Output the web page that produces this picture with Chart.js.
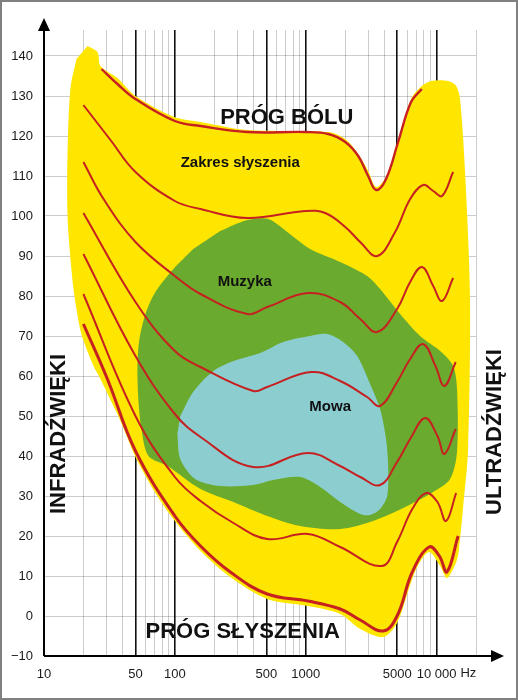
<!DOCTYPE html>
<html><head><meta charset="utf-8">
<script src="https://cdn.jsdelivr.net/npm/chart.js@4.4.1/dist/chart.umd.min.js"></script>
<style>html,body{margin:0;padding:0;background:#fff;}#wrap{width:518px;height:700px;}</style>
</head><body><div id="wrap"><canvas id="c" width="518" height="700"></canvas></div>
<script>
// ---- axis definitions ----
const xGridValues = [10,20,30,40,50,60,70,80,90,100,200,300,400,500,600,700,800,900,1000,2000,3000,4000,5000,6000,7000,8000,9000,10000,20000];
const xMajorValues = [50,100,500,1000,5000,10000];
const xLabelValues = [10,50,100,500,1000,5000,10000];
const xLabelTexts = ['10','50','100','500','1000','5000','10 000'];
const yTickValues = [-10,0,10,20,30,40,50,60,70,80,90,100,110,120,130,140];
const yTickLabels = ['\u221210','0','10','20','30','40','50','60','70','80','90','100','110','120','130','140'];

// ---- regions [Hz, dB] ----
const hearingArea = [[21.5,142.5],[25.6,141],[27.0,137.5],[36.4,134.5],[50,130],[99,124.75],[157,123.5],[357,121.5],[1486,121],[2004,119.25],[2518,115.5],[2999,111.25],[3450,107.25],[4110,109.75],[5080,118.75],[6380,129.25],[7700,132.5],[9080,133.75],[12250,133.75],[14100,132.5],[15100,129.25],[16500,111],[18000,79.25],[17400,41.75],[15900,26.75],[15100,19.25],[14300,14],[12000,9.5],[10640,12.5],[8770,16],[7230,12.75],[6280,7.75],[4990,-1.75],[3910,-5.25],[2607,-3.25],[1833,0.5],[1040,2.5],[508,4.25],[265,9.75],[157,16.25],[100,23.75],[71,30.75],[50,39.75],[38.4,48.75],[27.0,59.25],[23.9,62.5],[19.3,70.5],[17.7,76.75],[16.8,81.75],[15.7,91.75],[15.1,101],[15.1,114.25],[15.9,131.75],[17.7,139.25]];
const musicArea = [[222,96.25],[357,99],[518,99.25],[722,96],[1080,91.75],[1833,88.5],[2944,85],[3700,81.75],[5260,75.5],[7480,70],[10640,66.25],[13370,62.5],[14320,56.75],[14320,41],[12680,34.25],[9400,31],[5960,27.5],[3270,23.75],[1833,21.75],[908,22.5],[508,25],[280,28.5],[157,31.75],[87.7,37.5],[62.8,40],[55.5,46.75],[52.6,54.25],[51.8,63],[53.6,69.25],[59.6,75.5],[71,81],[97.5,86.75],[138,91.75]];
const speechArea = [[110,50],[138,56],[197,61.25],[280,63.75],[450,65.75],[673,68.5],[1080,70],[1459,70.5],[1932,68.5],[2472,65],[3105,58],[3700,51.75],[4110,44.25],[4270,36.75],[4190,30],[3700,26.75],[3105,25.25],[2607,25.5],[1833,28.5],[1291,32.25],[908,34.75],[565,34],[397,32.75],[222,32.5],[143,34.25],[110,39.25],[104.5,45.5]];

// ---- equal-loudness curves [Hz, dB] ----
const painThreshold = [[27.5,136.75],[36.4,133],[50,129.25],[100,123.75],[157,122.5],[357,121],[1000,121],[1486,120.5],[2004,118.5],[2518,115],[2999,110],[3450,106.5],[4110,109.25],[5080,118.5],[6380,128.5],[7700,131.75]];
const curve100 = [[20,127.75],[32.2,119],[50,111],[100,103.75],[157,101.75],[357,99.5],[1000,101.25],[1409,100.75],[2004,97.25],[2607,93.5],[3515,90],[4820,96],[6280,104.25],[7890,107.75],[9420,106.25],[11000,105],[13370,111]];
const curve80 = [[20,113.5],[28.5,104.25],[50,93.5],[100,85],[157,80.5],[357,75.5],[508,77.25],[1040,80.75],[1833,78.5],[2607,74.25],[3515,71],[4990,76.75],[6280,83.5],[7740,87.25],[9420,82.5],[11000,78.75],[13370,84.5]];
const curve60 = [[20,100.75],[50,78.5],[100,66.25],[157,62.25],[397,56.25],[508,57.25],[1100,61],[1833,58.75],[2944,54.75],[3700,52.5],[4990,58.5],[6280,64.25],[7890,68],[9800,62.5],[11460,57.5],[14000,63.5]];
const curve40 = [[20,90.5],[50,65],[100,50.5],[157,44.75],[397,37.25],[1040,40.75],[1833,37.5],[2607,34.75],[3700,32.75],[4990,38.5],[6280,44.25],[8170,49.5],[10150,45],[11460,40.5],[14000,46.75]];
const curve20 = [[20,80.5],[50,50],[100,34.75],[157,28.75],[280,23.25],[508,19.25],[1040,20.5],[1833,17.25],[3800,12.5],[4990,18.5],[6520,26.75],[8330,30.75],[10150,28.5],[11800,23.75],[14100,30.75]];
const hearingThreshold = [[20,73],[30.5,59.25],[50,41.25],[100,25],[157,17.5],[265,11],[508,5.5],[1040,3.75],[1833,1.75],[2607,-1],[3900,-3.75],[4990,0],[6520,11],[8770,17.25],[10500,15],[11990,11],[14600,20]];

// ---- text labels [text, Hz, dB, size] ----
const labels = [
  ['PRÓG BÓLU', 716, 124.5, 22],
  ['Zakres słyszenia', 316, 113.25, 15],
  ['Muzyka', 342, 83.5, 15],
  ['Mowa', 1538, 52.25, 15],
  ['PRÓG SŁYSZENIA', 330, -4, 22]
];
const sideLabels = [['INFRADŹWIĘKI', 13.1, 45.5], ['ULTRADŹWIĘKI', 28000, 46]];

const FONT = "'Liberation Sans', Arial, sans-serif";
const RED = '#c62020';
const pts = a => a.map(p => ({x:p[0], y:p[1]}));

function area(data, color, order) {
  return {data: pts(data), fill: 'shape', backgroundColor: color, borderWidth: 0, borderColor: color,
          pointRadius: 0, tension: 0.3, order: order};
}
function curve(data, width) {
  return {data: pts(data), fill: false, borderColor: RED, borderWidth: width, pointRadius: 0,
          tension: 0.4, order: 1};
}

const decor = {
  id: 'decor',
  afterDraw(chart) {
    const ctx = chart.ctx, xs = chart.scales.x, ys = chart.scales.y, a = chart.chartArea;
    ctx.save();
    ctx.strokeStyle = '#808080'; ctx.lineWidth = 2;
    ctx.strokeRect(1, 1, 516, 698);
    const x0 = xs.getPixelForValue(10), y0 = ys.getPixelForValue(-10);
    ctx.strokeStyle = '#000'; ctx.lineWidth = 2;
    ctx.beginPath(); ctx.moveTo(x0, y0); ctx.lineTo(x0, a.top - 6); ctx.stroke();
    ctx.beginPath(); ctx.moveTo(x0, y0); ctx.lineTo(a.right + 18, y0); ctx.stroke();
    ctx.fillStyle = '#000';
    ctx.beginPath(); ctx.moveTo(x0, a.top - 12); ctx.lineTo(x0 - 6, a.top + 1); ctx.lineTo(x0 + 6, a.top + 1); ctx.closePath(); ctx.fill();
    ctx.beginPath(); ctx.moveTo(a.right + 28, y0); ctx.lineTo(a.right + 15, y0 - 6); ctx.lineTo(a.right + 15, y0 + 6); ctx.closePath(); ctx.fill();
    ctx.font = '13px ' + FONT;
    const w = ctx.measureText('10 000').width;
    ctx.fillStyle = '#1a1a1a'; ctx.textBaseline = 'top'; ctx.textAlign = 'left';
    ctx.fillText('Hz', xs.getPixelForValue(10000) + w / 2 + 4, y0 + 11);
    ctx.fillStyle = '#111'; ctx.textAlign = 'center'; ctx.textBaseline = 'middle';
    labels.forEach(([t, f, d, s]) => {
      ctx.font = 'bold ' + s + 'px ' + FONT;
      ctx.fillText(t, xs.getPixelForValue(f), ys.getPixelForValue(d));
    });
    ctx.font = 'bold 22px ' + FONT;
    sideLabels.forEach(([t, f, d]) => {
      ctx.save();
      ctx.translate(xs.getPixelForValue(f), ys.getPixelForValue(d));
      ctx.rotate(-Math.PI / 2);
      ctx.fillText(t, 0, 0);
      ctx.restore();
    });
    ctx.restore();
  }
};

new Chart(document.getElementById('c'), {
  type: 'line',
  data: {
    datasets: [
      area(hearingArea, '#ffe600', 10),
      area(musicArea, '#6aaa2e', 9),
      area(speechArea, '#8ccdd0', 8),
      curve(painThreshold, 2.4),
      curve(curve100, 2),
      curve(curve80, 2),
      curve(curve60, 2),
      curve(curve40, 2),
      curve(curve20, 2),
      curve(hearingThreshold, 3)
    ]
  },
  options: {
    responsive: false, animation: false,
    layout: {padding: {top: 30, right: 42, left: 0, bottom: 0}},
    plugins: {legend: {display: false}, tooltip: {enabled: false}},
    scales: {
      x: {
        type: 'logarithmic', min: 10, max: 20000, z: 1,
        afterBuildTicks: s => { s.ticks = xGridValues.map(v => ({value: v})); },
        afterFit: s => { s.height = 44; },
        border: {display: false},
        grid: {
          drawTicks: false,
          color: c => { const v = c.tick && c.tick.value; if (v === 10) return 'rgba(0,0,0,0)'; return xMajorValues.includes(v) ? '#111' : 'rgba(0,0,0,0.2)'; },
          lineWidth: c => { const v = c.tick && c.tick.value; return xMajorValues.includes(v) ? 1.6 : 1; }
        },
        ticks: {
          autoSkip: false, maxRotation: 0, minRotation: 0, padding: 11, color: '#1a1a1a',
          font: {family: FONT, size: 13},
          callback: v => { const i = xLabelValues.indexOf(v); return i >= 0 ? xLabelTexts[i] : ''; }
        }
      },
      y: {
        min: -10, max: 146.5, z: 1,
        afterBuildTicks: s => { s.ticks = yTickValues.map(v => ({value: v})); },
        afterFit: s => { s.width = 44; },
        border: {display: false},
        grid: {
          drawTicks: false,
          color: c => (c.tick && c.tick.value === -10) ? 'rgba(0,0,0,0)' : 'rgba(0,0,0,0.2)',
          lineWidth: 1
        },
        ticks: {
          padding: 11, color: '#1a1a1a', font: {family: FONT, size: 13},
          callback: v => { const i = yTickValues.indexOf(v); return i >= 0 ? yTickLabels[i] : ''; }
        }
      }
    }
  },
  plugins: [decor]
});
</script>
</body></html>
